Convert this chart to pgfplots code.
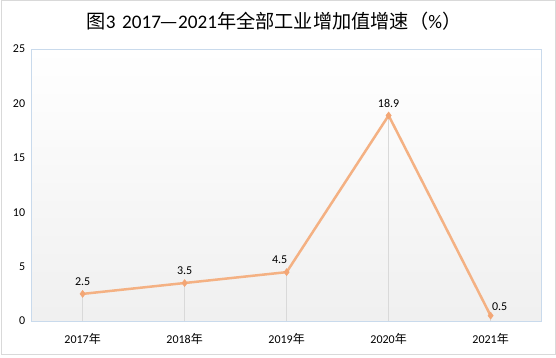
\documentclass[border=0pt]{standalone}
\usepackage{pgfplots}
\pgfplotsset{compat=1.18}
\usepackage{pgfplotstable}
\usepackage{fontspec}
\setmainfont{Carlito}
\newfontfamily\cjk{Noto Sans CJK SC}
\definecolor{linec}{HTML}{F4B183}
\definecolor{markc}{HTML}{F3A675}
\definecolor{gridc}{HTML}{D9D9D9}
\definecolor{framec}{HTML}{C9DAEC}
\definecolor{outerc}{HTML}{D9D9D9}
\pgfplotstableread{
x y dx dy
0 2.5 0 12
1 3.5 0 12.5
2 4.5 -7 12
3 18.9 0 12
4 0.5 9 9
}\datatable
\begin{document}
\begin{tikzpicture}[x=1pt,y=1pt]
\useasboundingbox (0,0) rectangle (556,357);
\fill[white] (0,0) rectangle (556,357);
\draw[outerc, line width=1pt] (1,3) rectangle (555,356);
\node[font=\fontsize{19.2}{23}\selectfont, anchor=center] at (274,335.5)
  {{\cjk 图}3\hspace{2pt} 2017{\cjk —}2021{\cjk 年全部工业增加值增速（}\%{\cjk ）}};
\begin{axis}[
  at={(31,33)}, anchor=south west,
  scale only axis, width=510, height=272,
  xmin=-0.5, xmax=4.5, ymin=0, ymax=25,
  xtick={0,1,2,3,4},
  xticklabels={2017{\cjk 年},2018{\cjk 年},2019{\cjk 年},2020{\cjk 年},2021{\cjk 年}},
  ytick={0,5,10,15,20,25},
  major tick length=0pt,
  tick label style={font=\fontsize{12}{14}\selectfont, text=black},
  /pgf/number format/assume math mode=true,
  xticklabel style={yshift=-9pt},
  yticklabel style={xshift=-3pt},
  axis line style={framec, line width=0.8pt},
  axis background/.style={top color=white, bottom color=black!6},
  clip=false,
]
\addplot[ycomb, gridc, line width=0.8pt, no marks] table[x=x,y=y] \datatable;
\addplot[linec, line width=2.5pt, mark=diamond*, mark size=3.5pt,
  mark options={fill=markc, draw=markc, line width=0.5pt},
  visualization depends on={\thisrow{dx}\as\ddx},
  visualization depends on={\thisrow{dy}\as\ddy},
  nodes near coords,
  nodes near coords style={font=\fontsize{12}{14}\selectfont, text=black, anchor=center, xshift=\ddx pt, yshift=\ddy pt,
    /pgf/number format/fixed, /pgf/number format/precision=1, /pgf/number format/fixed zerofill},
  ] table[x=x,y=y] \datatable;
\end{axis}
\end{tikzpicture}
\end{document}
